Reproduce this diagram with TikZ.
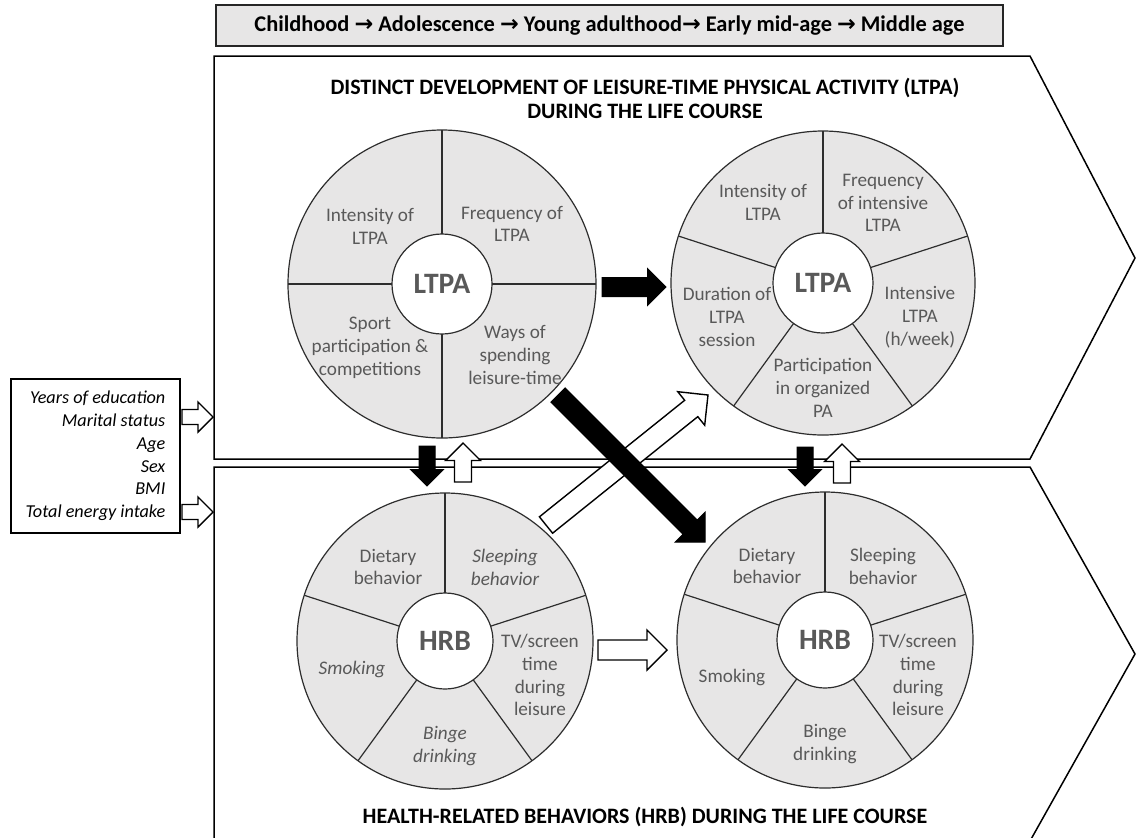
\documentclass[tikz,border=0pt]{standalone}
\usepackage{fontspec}
\setmainfont{Carlito}
\newfontfamily\arrowfont{DejaVu Sans}
\usetikzlibrary{calc}
\definecolor{WheelGray}{RGB}{231,230,230}
\definecolor{TextGray}{RGB}{89,89,89}
\definecolor{LineGray}{RGB}{45,45,45}
\tikzset{
  frame/.style={draw=black,line width=0.75pt,fill=white},
  banner/.style={draw=black!85,line width=0.9pt,fill=WheelGray,inner sep=0pt,
    font=\fontsize{11.2}{13}\selectfont\bfseries},
  covbox/.style={draw=black,line width=0.6pt,fill=white,align=right,inner sep=0pt,
    minimum width=84.5pt,minimum height=77pt,
    font=\fontsize{9.1}{11.4}\selectfont\itshape},
  wheel/.style={circle,draw=LineGray,line width=0.6pt,fill=WheelGray,inner sep=0pt,outer sep=0pt},
  hub/.style={circle,draw=LineGray,line width=0.6pt,fill=white,inner sep=0pt,outer sep=0pt,
    text=TextGray,font=\fontsize{14.8}{16}\selectfont\bfseries},
  spoke/.style={draw=LineGray,line width=0.6pt},
  seg/.style={align=center,text=TextGray,inner sep=0pt,font=\fontsize{9.6}{11.4}\selectfont},
  segit/.style={seg,font=\fontsize{9.6}{11.4}\selectfont\itshape},
  heading/.style={align=center,inner sep=0pt,font=\fontsize{11}{12}\selectfont\bfseries},
  solidarrow/.style={fill=black,draw=black,line width=0.5pt},
  openarrow/.style={fill=white,draw=black,line width=0.7pt}
}
% block arrow: style, from, to, shaft half width, head half width
\newcommand{\blockarrow}[5][]{%
  \draw[#1] ($(#2)!#4!90:(#3)$) -- ($($(#3)!#5!(#2)$)!#4!90:(#3)$)
    -- ($($(#3)!#5!(#2)$)!#5!90:(#3)$) -- (#3)
    -- ($($(#3)!#5!(#2)$)!#5!-90:(#3)$) -- ($($(#3)!#5!(#2)$)!#4!-90:(#3)$)
    -- ($(#2)!#4!-90:(#3)$) -- cycle;}

\begin{document}
\begin{tikzpicture}[x=0.5pt,y=-0.5pt]
  \useasboundingbox (0,0) rectangle (1137,837);
  \clip (0,0) rectangle (1137,837);

  % life course banner
  \node[banner,minimum width=393.5pt,minimum height=20.5pt] (stages) at (609.5,25.5)
    {Childhood {\arrowfont →} Adolescence {\arrowfont →} Young adulthood{\arrowfont →} Early mid-age {\arrowfont →} Middle age};

  % the two chevrons
  \draw[frame] (214,56) -- (1030,56) -- (1135,258) -- (1030,459) -- (214,459) -- cycle;
  \draw[frame] (214,467) -- (1030,467) -- (1135,654) -- (1030,841) -- (214,841) -- cycle;
  \node[heading] (ltpatitle) at (645,98)
    {DISTINCT DEVELOPMENT OF LEISURE-TIME PHYSICAL ACTIVITY (LTPA)\\DURING THE LIFE COURSE};
  \node[heading] (hrbtitle) at (645,817) {HEALTH-RELATED BEHAVIORS (HRB) DURING THE LIFE COURSE};

  % covariates
  \node[covbox] (cov) at (95.5,456)
    {Years of education\\Marital status\\Age\\Sex\\BMI\\Total energy intake};

  % LTPA, first wheel
  \node[wheel,minimum size=154pt] (ltpaA) at (442,284) {};
  \foreach \a in {0,90,180,270}
    \draw[spoke] (ltpaA.center) -- (ltpaA.\a);
  \node[hub,minimum size=50pt] (hubA) at (ltpaA) {LTPA};
  \node[seg] (intA) at (370,226) {Intensity of\\LTPA};
  \node[seg] (freqA) at (512,224) {Frequency of\\LTPA};
  \node[seg] (sportA) at (370,348) {Sport\\participation \&\\competitions};
  \node[seg] (waysA) at (515,355) {Ways of\\spending\\leisure-time};

  % LTPA, second wheel
  \node[wheel,minimum size=152pt] (ltpaB) at (823,283) {};
  \foreach \a in {90,18,-54,-126,162}
    \draw[spoke] (ltpaB.center) -- (ltpaB.\a);
  \node[hub,minimum size=50pt] (hubB) at (ltpaB) {LTPA};
  \node[seg] (intB) at (763,202) {Intensity of\\LTPA};
  \node[seg] (freqB) at (883,203) {Frequency\\of intensive\\LTPA};
  \node[seg] (durB) at (727,317) {Duration of\\LTPA\\session};
  \node[seg] (hoursB) at (920,317) {Intensive\\LTPA\\(h/week)};
  \node[seg] (orgB) at (823,388) {Participation\\in organized\\PA};

  % HRB, first wheel
  \node[wheel,minimum size=148pt] (hrbA) at (445,641) {};
  \foreach \a in {90,18,-54,-126,162}
    \draw[spoke] (hrbA.center) -- (hrbA.\a);
  \node[hub,minimum size=48pt] (hubC) at (hrbA) {HRB};
  \node[seg] (dietA) at (388,567) {Dietary\\behavior};
  \node[segit] (sleepA) at (505,567) {Sleeping\\behavior};
  \node[segit] (smokeA) at (352,669) {Smoking};
  \node[seg] (tvA) at (540,675) {TV/screen\\time\\during\\leisure};
  \node[segit] (bingeA) at (445,746) {Binge\\drinking};

  % HRB, second wheel
  \node[wheel,minimum size=148pt] (hrbB) at (825,640) {};
  \foreach \a in {90,18,-54,-126,162}
    \draw[spoke] (hrbB.center) -- (hrbB.\a);
  \node[hub,minimum size=48pt] (hubD) at (hrbB) {HRB};
  \node[seg] (dietB) at (767,566) {Dietary\\behavior};
  \node[seg] (sleepB) at (883,566) {Sleeping\\behavior};
  \node[seg] (smokeB) at (732,677) {Smoking};
  \node[seg] (tvB) at (918,675) {TV/screen\\time\\during\\leisure};
  \node[seg] (bingeB) at (825,744) {Binge\\drinking};

  % arrow ends
  \coordinate (covUs) at (182,417);  \coordinate (covUe) at (213,417);
  \coordinate (covLs) at (182,512);  \coordinate (covLe) at (213,512);
  \coordinate (downAs) at (427,446); \coordinate (downAe) at (427,486);
  \coordinate (upAs) at (463,482);   \coordinate (upAe) at (463,443);
  \coordinate (downBs) at (805,447); \coordinate (downBe) at (805,486);
  \coordinate (upBs) at (842,483);   \coordinate (upBe) at (842,444);
  \coordinate (ltpaAB) at (602,287); \coordinate (ltpaBA) at (666,287);
  \coordinate (crossWs) at (546,525); \coordinate (crossWe) at (708,395);
  \coordinate (crossBs) at (558,395); \coordinate (crossBe) at (705,542);
  \coordinate (hrbAB) at (598,650);  \coordinate (hrbBA) at (667,650);

  \blockarrow[openarrow]{covUs}{covUe}{3.75pt}{7.5pt}
  \blockarrow[openarrow]{covLs}{covLe}{3.75pt}{7.5pt}
  \blockarrow[solidarrow]{downAs}{downAe}{4pt}{8.25pt}
  \blockarrow[openarrow]{upAs}{upAe}{4.25pt}{8.75pt}
  \blockarrow[solidarrow]{downBs}{downBe}{4pt}{8.25pt}
  \blockarrow[openarrow]{upBs}{upBe}{4.25pt}{8.75pt}
  \blockarrow[solidarrow]{ltpaAB}{ltpaBA}{4.75pt}{9.25pt}
  \blockarrow[openarrow]{hrbAB}{hrbBA}{5pt}{10pt}
  \blockarrow[openarrow]{crossWs}{crossWe}{5.25pt}{10.75pt}
  \blockarrow[solidarrow]{crossBs}{crossBe}{5pt}{10.5pt}
\end{tikzpicture}
\end{document}
